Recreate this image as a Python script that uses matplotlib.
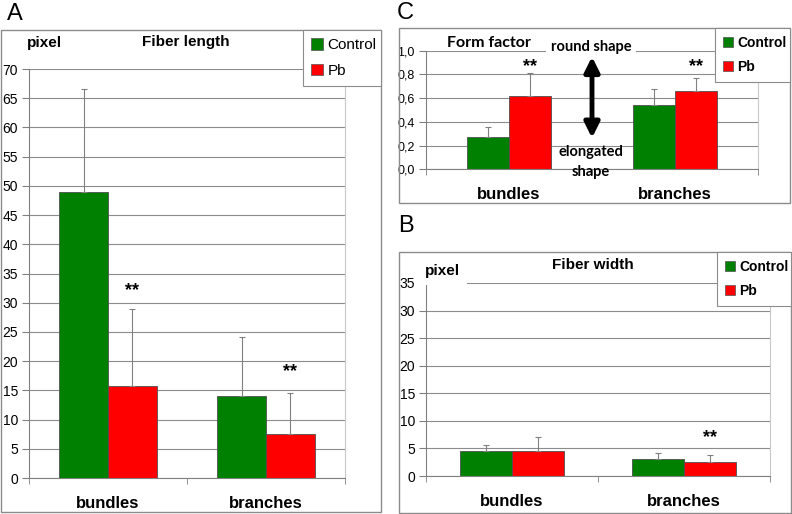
import matplotlib
matplotlib.use('Agg')
import matplotlib.pyplot as plt
from matplotlib.patches import Patch, Rectangle
import numpy as np

plt.rcParams['font.family'] = ['Liberation Sans', 'DejaVu Sans']

# Data
categories = ['bundles', 'branches']
groups = ['Control', 'Pb']

length_control = [48.9, 14.0]
length_control_sd = [17.7, 10.2]
length_pb = [15.7, 7.6]
length_pb_sd = [13.3, 7.0]

form_control = [0.27, 0.54]
form_control_sd = [0.09, 0.14]
form_pb = [0.62, 0.66]
form_pb_sd = [0.19, 0.11]

width_control = [4.5, 3.1]
width_control_sd = [1.1, 1.0]
width_pb = [4.5, 2.6]
width_pb_sd = [2.6, 1.2]

W, H = 792, 514
GREEN = '#008000'
RED = '#ff0000'
GRID = '#8c8c8c'


def fx(x):
    return x / W


def fy(y):
    return 1 - y / H


def make_axes(left, right, top, bottom):
    return fig.add_axes([fx(left), fy(bottom), fx(right - left), (bottom - top) / H])


def draw_panel(ax, ctrl, ctrl_sd, pb, pb_sd, bw, ymax, ystep, fmt, tick_fs):
    x = np.arange(len(categories))
    ax.bar(x - bw / 2, ctrl, bw, color=GREEN, edgecolor='#505050', linewidth=0.6, zorder=2)
    ax.bar(x + bw / 2, pb, bw, color=RED, edgecolor='#505050', linewidth=0.6, zorder=2)
    ax.errorbar(x - bw / 2, ctrl, yerr=[np.zeros(len(x)), ctrl_sd], fmt='none',
                ecolor='#808080', elinewidth=0.8, capsize=2, capthick=0.8, zorder=3)
    ax.errorbar(x + bw / 2, pb, yerr=[np.zeros(len(x)), pb_sd], fmt='none',
                ecolor='#808080', elinewidth=0.8, capsize=2, capthick=0.8, zorder=3)
    ax.set_xlim(-0.5, len(x) - 0.5)
    ax.set_ylim(0, ymax)
    yt = np.arange(0, ymax + ystep / 2, ystep)
    ax.set_yticks(yt)
    ax.set_yticklabels([fmt(v) for v in yt], fontsize=tick_fs)
    ax.set_xticks(x)
    ax.set_xticklabels(categories, fontsize=12, fontweight='bold')
    ax.set_xticks(np.arange(-0.5, len(x), 1.0), minor=True)
    ax.tick_params(axis='x', which='major', length=0, pad=13)
    ax.tick_params(axis='x', which='minor', length=4, color='#808080', direction='out')
    ax.tick_params(axis='y', length=5, color='#808080', pad=3)
    ax.yaxis.grid(True, color=GRID, linewidth=0.8)
    ax.set_axisbelow(True)
    ax.spines['top'].set_visible(False)
    ax.spines['right'].set_color('#c8c8c8')
    ax.spines['left'].set_color('#808080')
    ax.spines['bottom'].set_color('#808080')
    return x


def add_legend(x0, y0, x1, y1, bold, fs):
    handles = [Patch(facecolor=GREEN, edgecolor='#505050', linewidth=0.5),
               Patch(facecolor=RED, edgecolor='#505050', linewidth=0.5)]
    leg = fig.legend(handles, groups, loc='upper left',
                     bbox_to_anchor=(fx(x0), fy(y1), fx(x1 - x0), (y1 - y0) / H),
                     bbox_transform=fig.transFigure, mode='expand', borderaxespad=0,
                     fancybox=False, framealpha=1, edgecolor='#8c8c8c',
                     handlelength=0.75, handleheight=0.75, handletextpad=0.3,
                     labelspacing=0.75, borderpad=0.55,
                     prop={'size': fs, 'weight': 'bold' if bold else 'normal'})
    leg.get_frame().set_linewidth(0.8)


fig = plt.figure(figsize=(W / 100, H / 100), dpi=100)

# Panel frames
for (l, t, r, b) in [(1, 30, 381, 512), (399, 28, 790, 203), (399, 252, 791, 513)]:
    fig.add_artist(Rectangle((fx(l), fy(b)), fx(r - l), (b - t) / H, transform=fig.transFigure,
                             fill=False, edgecolor='#8c8c8c', linewidth=1))

# --- Panel A: Fiber length ---
axA = make_axes(29, 345, 69, 478)
xa = draw_panel(axA, length_control, length_control_sd, length_pb, length_pb_sd,
                0.31, 70, 5, lambda v: f'{int(v)}', 10)
axA.text(xa[0] + 0.155, 32, '**', ha='center', va='center', fontsize=13, fontweight='bold')
axA.text(xa[1] + 0.155, 18.2, '**', ha='center', va='center', fontsize=13, fontweight='bold')
fig.text(fx(27), fy(43), 'pixel', ha='left', va='center', fontsize=11, fontweight='bold')
fig.text(fx(186), fy(42), 'Fiber length', ha='center', va='center', fontsize=11, fontweight='bold')
fig.text(fx(7), fy(13.5), 'A', ha='left', va='center', fontsize=17)
add_legend(303, 30, 381, 84, False, 11)

# --- Panel C: Form factor ---
axC = make_axes(426, 758, 50.8, 169.3)
xc = draw_panel(axC, form_control, form_control_sd, form_pb, form_pb_sd,
                0.253, 1.0, 0.2, lambda v: f'{v:.1f}'.replace('.', ','), 9)
for xi in xc:
    axC.text(xi + 0.1265, 0.87, '**', ha='center', va='center', fontsize=13, fontweight='bold')
axC.annotate('', xy=(0.5, 0.95), xytext=(0.5, 0.265), xycoords='data',
             arrowprops=dict(arrowstyle='<|-|>,head_width=0.45,head_length=0.9',
                             color='black', lw=3.5, shrinkA=0, shrinkB=0))
fig.text(fx(447), fy(43), 'Form factor', ha='left', va='center', fontsize=11.5,
         fontweight='bold', family=['Lato', 'DejaVu Sans'])
fig.text(fx(591), fy(47), 'round shape', ha='center', va='center', fontsize=10.5,
         fontweight='bold', family=['Lato', 'DejaVu Sans'],
         bbox=dict(facecolor='white', edgecolor='none', pad=3))
fig.text(fx(591), fy(152), 'elongated', ha='center', va='center', fontsize=10.5,
         fontweight='bold', family=['Lato', 'DejaVu Sans'])
fig.text(fx(591), fy(172), 'shape', ha='center', va='center', fontsize=10.5,
         fontweight='bold', family=['Lato', 'DejaVu Sans'])
fig.text(fx(397), fy(13), 'C', ha='left', va='center', fontsize=17)
add_legend(715, 28, 790, 79, True, 10)

# --- Panel B: Fiber width ---
axB = make_axes(426, 770, 283, 476)
xb = draw_panel(axB, width_control, width_control_sd, width_pb, width_pb_sd,
                0.305, 35, 5, lambda v: f'{int(v)}', 10)
axB.text(xb[1] + 0.1525, 6.95, '**', ha='center', va='center', fontsize=13, fontweight='bold')
fig.text(fx(425), fy(271), 'pixel', ha='left', va='center', fontsize=11, fontweight='bold',
         bbox=dict(facecolor='white', edgecolor='none', pad=5))
fig.text(fx(593), fy(265), 'Fiber width', ha='center', va='center', fontsize=11, fontweight='bold')
fig.text(fx(398), fy(226), 'B', ha='left', va='center', fontsize=17)
add_legend(717, 252, 791, 302, True, 10)

fig.savefig('out.png', dpi=100)
